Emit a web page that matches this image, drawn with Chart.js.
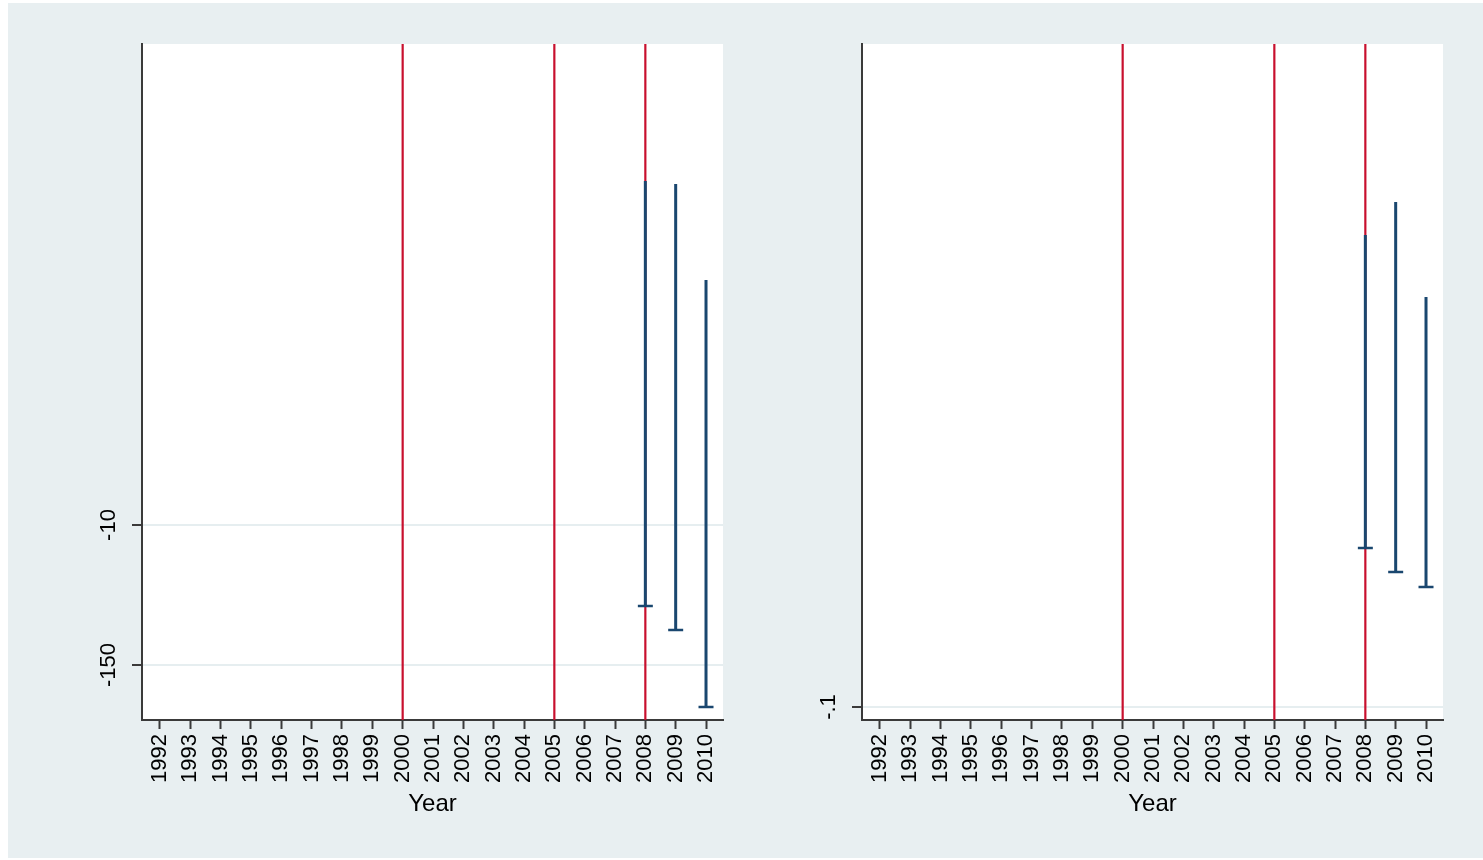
<!DOCTYPE html>
<html>
<head>
<meta charset="utf-8">
<script src="https://cdn.jsdelivr.net/npm/chart.js@4"></script>
<style>
  body { margin: 0; background: #fff; width: 1483px; height: 860px; overflow: hidden; position: relative; }
  #bg { position: absolute; left: 8px; top: 3px; width: 1475px; height: 855px; background: #e8eff1; }
  canvas { position: absolute; top: 0; }
  #left { left: 0; }
  #right { left: 720px; }
</style>
</head>
<body>
<div id="bg"></div>
<canvas id="left" width="741" height="860"></canvas>
<canvas id="right" width="741" height="860"></canvas>
<script>
// data
const years = [1992, 1993, 1994, 1995, 1996, 1997, 1998, 1999, 2000, 2001,
  2002, 2003, 2004, 2005, 2006, 2007, 2008, 2009, 2010];
const markYears = [2000, 2005, 2008];
const barYears = [2008, 2009, 2010];

// left panel
const leftHigh = [334, 331, 235];
const leftLow = [-91, -115, -192];
const leftTicks = [-150, -10];
const leftTickLabels = ["-150", "-10"];
const leftRange = [-205, 471];

// right panel
const rightHigh = [0.372, 0.405, 0.310];
const rightLow = [0.059, 0.035, 0.020];
const rightTicks = [-0.1];
const rightTickLabels = ["-.1"];
const rightRange = [-0.113, 0.563];

const navy = "#1a476f";
const red = "#c8102e";
const axisColor = "#3a3a3a";
const font = "'Liberation Sans', Arial, Helvetica, sans-serif";

const plotBg = {
  id: "plotBg",
  beforeDraw(chart) {
    const { ctx, chartArea: a } = chart;
    ctx.save();
    ctx.fillStyle = "#fff";
    ctx.fillRect(a.left, a.top, a.right - a.left, a.bottom - a.top);
    ctx.restore();
  },
};

// stata style y labels, turned to read upwards
const yLabels = {
  id: "yLabels",
  afterDraw(chart, args, opts) {
    const { ctx } = chart;
    const y = chart.scales.y;
    ctx.save();
    ctx.font = "22px " + font;
    ctx.fillStyle = "#000";
    ctx.textAlign = "center";
    ctx.textBaseline = "middle";
    opts.values.forEach((v, i) => {
      ctx.save();
      ctx.translate(109, y.getPixelForValue(v));
      ctx.rotate(-Math.PI / 2);
      ctx.fillText(opts.labels[i], 0, 0);
      ctx.restore();
    });
    ctx.restore();
  },
};

function makePanel(id, high, low, ticks, tickLabels, range) {
  const datasets = [];

  // bottom caps
  datasets.push({
    type: "scatter",
    data: barYears.map((x, i) => ({ x, y: low[i] })),
    pointStyle: "line",
    pointRadius: 7.5,
    borderColor: navy,
    borderWidth: 2.5,
  });

  barYears.forEach((x, i) => {
    datasets.push({
      type: "line",
      data: [{ x, y: high[i] }, { x, y: low[i] }],
      borderColor: navy,
      borderWidth: 3,
      pointRadius: 0,
    });
  });

  markYears.forEach((x) => {
    datasets.push({
      type: "line",
      data: [{ x, y: range[0] }, { x, y: range[1] }],
      borderColor: red,
      borderWidth: 2.2,
      pointRadius: 0,
    });
  });

  new Chart(document.getElementById(id), {
    type: "line",
    data: { datasets },
    options: {
      responsive: false,
      animation: false,
      devicePixelRatio: 1,
      layout: { padding: { left: 0, top: 44, right: 18, bottom: 0 } },
      plugins: {
        legend: { display: false },
        tooltip: { enabled: false },
        yLabels: { values: ticks, labels: tickLabels },
      },
      scales: {
        x: {
          type: "linear",
          min: 1991.407,
          max: 2010.56,
          afterBuildTicks: (s) => { s.ticks = years.map((v) => ({ value: v })); },
          afterFit: (s) => { s.height = 140; },
          ticks: {
            autoSkip: false,
            minRotation: 90,
            maxRotation: 90,
            padding: 5,
            color: "#000",
            font: { family: font, size: 22 },
            callback: (v) => String(v),
          },
          grid: {
            drawOnChartArea: false,
            drawTicks: true,
            tickLength: 9,
            tickColor: axisColor,
            tickWidth: 2,
          },
          border: { display: true, color: axisColor, width: 2 },
          title: {
            display: true,
            text: "Year",
            color: "#000",
            font: { family: font, size: 24 },
            padding: { top: 4, bottom: 41 },
          },
        },
        y: {
          type: "linear",
          min: range[0],
          max: range[1],
          afterBuildTicks: (s) => { s.ticks = ticks.map((v) => ({ value: v })); },
          afterFit: (s) => { s.width = 142; },
          ticks: { display: false },
          grid: {
            color: "#e6eef0",
            lineWidth: 2,
            drawTicks: true,
            tickLength: 10,
            tickColor: axisColor,
            tickWidth: 2,
          },
          border: { display: true, color: axisColor, width: 2 },
        },
      },
    },
    plugins: [plotBg, yLabels],
  });
}

makePanel("left", leftHigh, leftLow, leftTicks, leftTickLabels, leftRange);
makePanel("right", rightHigh, rightLow, rightTicks, rightTickLabels, rightRange);
</script>
</body>
</html>
